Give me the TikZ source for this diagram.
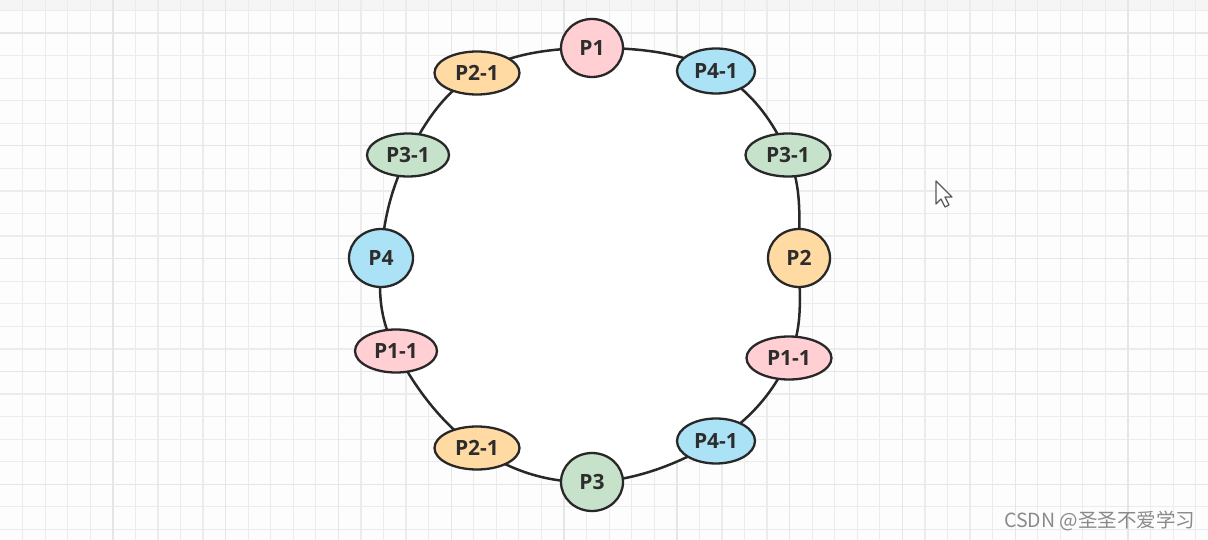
\documentclass[tikz,border=0pt]{standalone}
\usepackage{fontspec}
\newfontfamily\nodefont{Open Sans}
\newfontfamily\cjkfont{Noto Sans CJK SC}
\usetikzlibrary{shapes.geometric,backgrounds}
\definecolor{pinkf}{RGB}{255,207,212}
\definecolor{bluef}{RGB}{172,226,245}
\definecolor{greenf}{RGB}{198,226,202}
\definecolor{orangef}{RGB}{255,218,162}
\definecolor{edge}{RGB}{40,40,40}
\definecolor{txt}{RGB}{45,45,45}
\definecolor{gridminor}{RGB}{236,236,236}
\definecolor{gridmajor}{RGB}{230,230,230}
\definecolor{bg}{RGB}{253,253,253}
\definecolor{band}{RGB}{245,245,245}
\definecolor{wm}{RGB}{138,138,138}
\begin{document}
\begin{tikzpicture}[x=1pt,y=-1pt,
  pnode/.style={ellipse,draw=edge,line width=2.3pt,inner sep=0pt,
    font=\nodefont\bfseries\fontsize{21}{21}\selectfont,text=txt},
  bignode/.style={pnode,minimum width=62pt,minimum height=58pt},
  smallnode/.style={pnode,minimum width=85pt,minimum height=43pt},
  narrownode/.style={pnode,minimum width=78pt,minimum height=45pt},
  ring/.style={draw=edge,line width=2.5pt,fill=white},
  minorline/.style={draw=gridminor,line width=1.2pt},
  majorline/.style={draw=gridmajor,line width=1.4pt}]
\useasboundingbox (0,0) rectangle (1208,540);
\begin{scope}[on background layer]
  \fill[bg] (0,0) rectangle (1208,540);
  \fill[band] (0,0) rectangle (1208,11);
  \foreach \i in {1,...,53} \draw[minorline] ({22.56*\i},0) -- ({22.56*\i},540);
  \foreach \j in {0,...,23} \draw[minorline] (0,{10.5+22.56*\j}) -- (1208,{10.5+22.56*\j});
  \foreach \i in {1,...,10} \draw[majorline] ({112.8*\i},0) -- ({112.8*\i},540);
  \foreach \j in {0,...,4} \draw[majorline] (0,{33+112.8*\j}) -- (1208,{33+112.8*\j});
\end{scope}

\node[bignode,fill=pinkf] (p1) at (592,48) {P1};
\node[narrownode,fill=bluef] (p41a) at (716,71) {P4-1};
\node[smallnode,fill=greenf] (p31a) at (788,155) {P3-1};
\node[bignode,fill=orangef] (p2) at (799,258) {P2};
\node[smallnode,fill=pinkf] (p11a) at (789,358) {P1-1};
\node[narrownode,fill=bluef] (p41b) at (716,441) {P4-1};
\node[bignode,fill=greenf] (p3) at (592,482) {P3};
\node[smallnode,fill=orangef] (p21b) at (477,448) {P2-1};
\node[smallnode,fill=pinkf,minimum width=82pt] (p11b) at (396,351) {P1-1};
\node[bignode,fill=bluef,minimum width=64pt] (p4) at (381,258) {P4};
\node[smallnode,fill=greenf,minimum width=82pt] (p31b) at (408,155) {P3-1};
\node[smallnode,fill=orangef] (p21a) at (477,73) {P2-1};

\begin{scope}[on background layer]
  \draw[ring] plot[smooth cycle,tension=0.65] coordinates {(p1) (p41a) (p31a) (p2) (p11a) (p41b) (p3) (p21b) (p11b) (p4) (p31b) (p21a)};
\end{scope}

\draw[fill=white,draw=black!65,line width=1.2pt,line join=round]
  (936,181) -- (936,204) -- (941,199) -- (945,207) -- (949,205) -- (945,197) -- (952,197) -- cycle;

\node[anchor=west,inner sep=0pt,text=wm,font=\cjkfont\fontsize{19.5}{19.5}\selectfont] (wmk) at (1004,521) {CSDN @圣圣不爱学习};
\end{tikzpicture}
\end{document}
